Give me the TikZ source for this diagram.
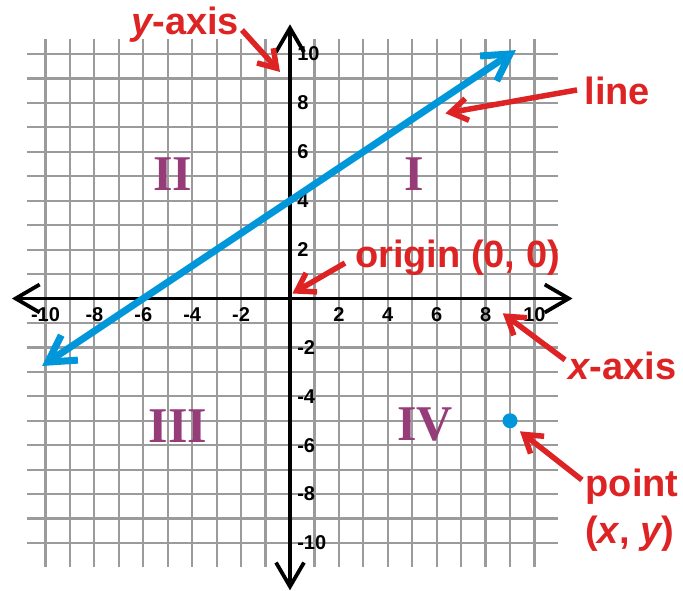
\documentclass[tikz,border=0pt]{standalone}
\usepackage{fontspec}
\setmainfont{Liberation Sans}
\newfontfamily\lsans{Liberation Sans}
\newfontfamily\lserif{Liberation Serif}
\usetikzlibrary{calc}
\definecolor{myred}{RGB}{221,35,35}
\definecolor{myblue}{RGB}{0,150,218}
\definecolor{mypurple}{RGB}{150,60,120}
\definecolor{mygray}{RGB}{155,155,155}
\newcommand\mychev[5]{\draw[#5,line join=miter,miter limit=10] ($(#1)!#3!(#2)!#4!90:(#1)$) -- (#1) -- ($(#1)!#3!(#2)!#4!-90:(#1)$);}
\tikzset{
  gridline/.style={draw=mygray,line width=2.2pt},
  axisline/.style={draw=black,line width=3.8pt},
  blueline/.style={draw=myblue,line width=7pt},
  redarrow/.style={draw=myred,line width=5.5pt},
  redtext/.style={text=myred,inner sep=0pt,anchor=base,font=\lsans\bfseries\fontsize{38}{40}\selectfont},
  quad/.style={text=mypurple,inner sep=0pt,anchor=base,font=\lserif\bfseries\fontsize{50}{50}\selectfont},
  tick/.style={text=black,inner sep=0pt,font=\lsans\bfseries\fontsize{20}{20}\selectfont},
  dotpt/.style={circle,fill=myblue,minimum size=15pt,inner sep=0pt}
}
\begin{document}
\begin{tikzpicture}[x=24.45pt,y=24.45pt]
\useasboundingbox (-11.861,-11.963) rectangle (16.074,12.209);
% grid
\foreach \i in {-10,...,10} {
  \draw[gridline] (\i,-10.98) -- (\i,10.61);
  \draw[gridline] (-10.76,\i) -- (10.96,\i);
}
% axes
\coordinate (xl) at (-11.22,0);
\coordinate (xr) at (11.40,0);
\coordinate (yb) at (0,-11.78);
\coordinate (yt) at (0,11.06);
\draw[axisline] (xl) -- (xr);
\draw[axisline] (yb) -- (yt);
\mychev{xl}{xr}{24pt}{14pt}{axisline}
\mychev{xr}{xl}{24pt}{14pt}{axisline}
\mychev{yb}{yt}{24pt}{14pt}{axisline}
\mychev{yt}{yb}{24pt}{14pt}{axisline}
% tick labels
\foreach \k in {-10,-8,-6,-4,-2,2,4,6,8,10} {
  \node[tick] (xt\k) at (\k,-0.67) {\k};
  \node[tick,anchor=west] (yt\k) at (0.29,\k) {\k};
}
% blue line
\coordinate (bl) at (-9.9,-2.6);
\coordinate (bu) at (9.0,10.0);
\draw[blueline] (bl) -- (bu);
\mychev{bl}{bu}{26pt}{15pt}{blueline}
\mychev{bu}{bl}{26pt}{15pt}{blueline}
% quadrant labels
\node[quad] (q1) at (5.07,4.4) {I};
\node[quad] (q2) at (-4.79,4.4) {II};
\node[quad] (q3) at (-4.58,-5.87) {III};
\node[quad] (q4) at (5.52,-5.79) {IV};
% point
\node[dotpt] (pt) at (9,-5) {};
% red labels
\node[redtext] (ylab) at (-4.29,10.78) {\itshape y\upshape -axis};
\node[redtext] (llab) at (13.39,7.95) {line};
\node[redtext] (olab) at (6.85,1.25) {origin (0, 0)};
\node[redtext] (xlab) at (13.60,-3.33) {\itshape x\upshape -axis};
\node[redtext] (plab) at (13.99,-8.08) {point};
\node[redtext] (plab2) at (13.89,-10.0) {(\itshape x\upshape , \itshape y\upshape )};
% red arrows
\coordinate (ya0) at (-1.963,10.98); \coordinate (ya1) at (-0.55,9.42);
\coordinate (la0) at (11.74,8.53);   \coordinate (la1) at (6.56,7.61);
\coordinate (oa0) at (2.25,1.45);    \coordinate (oa1) at (0.28,0.31);
\coordinate (xa0) at (11.25,-2.51);  \coordinate (xa1) at (8.87,-0.73);
\coordinate (pa0) at (11.94,-7.42);  \coordinate (pa1) at (9.57,-5.56);
\foreach \s/\t in {ya0/ya1,la0/la1,oa0/oa1,xa0/xa1,pa0/pa1} {
  \draw[redarrow] (\s) -- (\t);
  \mychev{\t}{\s}{17pt}{11pt}{redarrow}
}
\end{tikzpicture}
\end{document}
